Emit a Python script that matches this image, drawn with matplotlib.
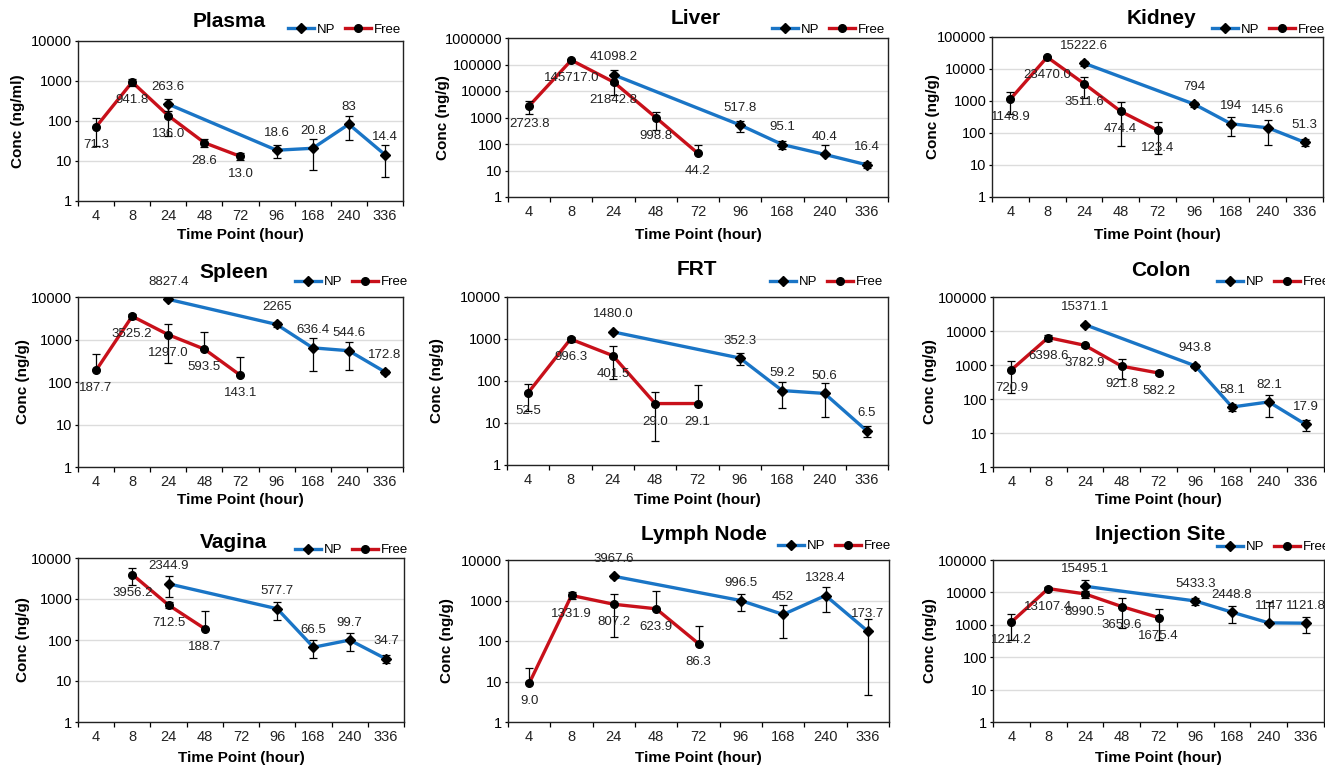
import matplotlib
matplotlib.use("Agg")
import matplotlib.pyplot as plt
from matplotlib.ticker import FixedLocator, FuncFormatter, NullLocator
from matplotlib.lines import Line2D
import numpy as np

plt.rcParams['font.family'] = ['Liberation Sans', 'DejaVu Sans']

# ---------------- data ----------------
time_points = ['4', '8', '24', '48', '72', '96', '168', '240', '336']
free_times = ['4', '8', '24', '48', '72']
np_times = ['24', '96', '168', '240', '336']
vagina_free_times = ['8', '24', '48']

plasma_free = [71.3, 941.8, 136.0, 28.6, 13.0]
plasma_free_sd = [48, 200, 95, 6, 2.5]
plasma_np = [263.6, 18.6, 20.8, 83, 14.4]
plasma_np_sd = [90, 6.7, 15, 50, 10.5]
plasma_np_lbl = ['263.6', '18.6', '20.8', '83', '14.4']

liver_free = [2723.8, 145717.0, 21842.8, 998.8, 44.2]
liver_free_sd = [1400, 15000, 15000, 650, 45]
liver_np = [41098.2, 517.8, 95.1, 40.4, 16.4]
liver_np_sd = [22000, 230, 31, 50, 4]
liver_np_lbl = ['41098.2', '517.8', '95.1', '40.4', '16.4']

kidney_free = [1148.9, 23470.0, 3511.6, 474.4, 123.4]
kidney_free_sd = [770, 2000, 2300, 435, 102]
kidney_np = [15222.6, 794, 194, 145.6, 51.3]
kidney_np_sd = [3000, 160, 112, 102, 12]
kidney_np_lbl = ['15222.6', '794', '194', '145.6', '51.3']

spleen_free = [187.7, 3525.2, 1297.0, 593.5, 143.1]
spleen_free_sd = [270, 500, 1010, 920, 254]
spleen_np = [8827.4, 2265, 636.4, 544.6, 172.8]
spleen_np_sd = [500, 300, 450, 350, 20]
spleen_np_lbl = ['8827.4', '2265', '636.4', '544.6', '172.8']

frt_free = [52.5, 996.3, 401.5, 29.0, 29.1]
frt_free_sd = [33, 150, 290, 25.3, 50]
frt_np = [1480.0, 352.3, 59.2, 50.6, 6.5]
frt_np_sd = [100, 110, 37, 37, 1.8]
frt_np_lbl = ['1480.0', '352.3', '59.2', '50.6', '6.5']

colon_free = [720.9, 6398.6, 3782.9, 921.8, 582.2]
colon_free_sd = [570, 1250, 400, 540, 80]
colon_np = [15371.1, 943.8, 58.1, 82.1, 17.9]
colon_np_sd = [1000, 100, 14, 53, 6.5]
colon_np_lbl = ['15371.1', '943.8', '58.1', '82.1', '17.9']

vagina_free = [3956.2, 712.5, 188.7]
vagina_free_sd = [1750, 115, 315]
vagina_np = [2344.9, 577.7, 66.5, 99.7, 34.7]
vagina_np_sd = [1230, 268, 31, 46, 7.5]
vagina_np_lbl = ['2344.9', '577.7', '66.5', '99.7', '34.7']

lymph_free = [9.0, 1331.9, 807.2, 623.9, 86.3]
lymph_free_sd = [12.7, 250, 680, 1076, 148]
lymph_np = [3967.6, 996.5, 452, 1328.4, 173.7]
lymph_np_sd = [300, 460, 335, 795, 169]
lymph_np_lbl = ['3967.6', '996.5', '452', '1328.4', '173.7']

inj_free = [1214.2, 13107.4, 8990.5, 3659.6, 1675.4]
inj_free_sd = [880, 1500, 2300, 2880, 1330]
inj_np = [15495.1, 5433.3, 2448.8, 1147, 1121.8]
inj_np_sd = [8000, 1430, 1300, 4000, 570]
inj_np_lbl = ['15495.1', '5433.3', '2448.8', '1147', '1121.8']

titles = ['Plasma', 'Liver', 'Kidney', 'Spleen', 'FRT', 'Colon', 'Vagina', 'Lymph Node', 'Injection Site']
ylabels = ['Conc (ng/ml)'] + ['Conc (ng/g)'] * 8
ymax = [1e4, 1e6, 1e5, 1e4, 1e4, 1e5, 1e4, 1e4, 1e5]

panels_data = [
    (free_times, plasma_free, plasma_free_sd, plasma_np, plasma_np_sd, plasma_np_lbl),
    (free_times, liver_free, liver_free_sd, liver_np, liver_np_sd, liver_np_lbl),
    (free_times, kidney_free, kidney_free_sd, kidney_np, kidney_np_sd, kidney_np_lbl),
    (free_times, spleen_free, spleen_free_sd, spleen_np, spleen_np_sd, spleen_np_lbl),
    (free_times, frt_free, frt_free_sd, frt_np, frt_np_sd, frt_np_lbl),
    (free_times, colon_free, colon_free_sd, colon_np, colon_np_sd, colon_np_lbl),
    (vagina_free_times, vagina_free, vagina_free_sd, vagina_np, vagina_np_sd, vagina_np_lbl),
    (free_times, lymph_free, lymph_free_sd, lymph_np, lymph_np_sd, lymph_np_lbl),
    (free_times, inj_free, inj_free_sd, inj_np, inj_np_sd, inj_np_lbl),
]

# ---------------- layout (pixels) ----------------
W, H = 1325, 765
# axes rect (left, top, right, bottom), title center, legend (left x, center y), ylabel x, xlabel y
layout = [
    ((78, 41, 403, 201), (229, 22), (288, 30), 18, 235),
    ((508, 38, 888, 197), (696, 18), (772, 30), 443, 235),
    ((992, 37, 1323, 197), (1161, 18), (1212, 30), 933, 235),
    ((78, 297, 403, 467), (234, 272), (295, 282), 23, 500),
    ((507, 297, 888, 465), (697, 270), (770, 282), 437, 500),
    ((993, 297, 1324, 467), (1161, 270), (1217, 282), 930, 500),
    ((78, 558, 404, 722), (233, 542), (295, 550), 23, 758),
    ((508, 560, 889, 722), (704, 535), (778, 546), 447, 758),
    ((993, 560, 1324, 722), (1160, 535), (1217, 547), 930, 758),
]

NP_COLOR = '#1A75C6'
FREE_COLOR = '#C8101A'

fig = plt.figure(figsize=(W / 100, H / 100), dpi=100)

for i in range(9):
    (l, t, r, b), (tx, ty), (lx, ly), ylx, xly = layout[i]
    ftimes, fvals, fsd, nvals, nsd, nlbl = panels_data[i]
    ax = fig.add_axes([l / W, 1 - b / H, (r - l) / W, (b - t) / H])
    ax.set_yscale('log')
    ax.set_xlim(-0.5, len(time_points) - 0.5)
    ax.set_ylim(1, ymax[i])

    fx = [time_points.index(tp) for tp in ftimes]
    nx = [time_points.index(tp) for tp in np_times]

    # lines
    ax.plot(nx, nvals, color=NP_COLOR, lw=2.4, zorder=3)
    ax.plot(fx, fvals, color=FREE_COLOR, lw=2.4, zorder=3)
    # error bars (lower bar omitted when it would go below zero)
    for xs, vals, sds in ((nx, nvals, nsd), (fx, fvals, fsd)):
        lower = [sd if v - sd > 0 else 0 for v, sd in zip(vals, sds)]
        ax.errorbar(xs, vals, yerr=[lower, sds], fmt='none', ecolor='black',
                    elinewidth=0.9, capsize=3, capthick=0.9, zorder=4)
    # markers
    ax.plot(nx, nvals, linestyle='none', marker='D', ms=5, mfc='black', mec='black', zorder=5)
    ax.plot(fx, fvals, linestyle='none', marker='o', ms=5.5, mfc='black', mec='black', zorder=5)

    # data labels
    for x, v, s in zip(nx, nvals, nlbl):
        ax.annotate(s, (x, v), xytext=(0, 12.5), textcoords='offset points',
                    ha='center', va='center', fontsize=9.5, color='#222222', zorder=6)
    for x, v in zip(fx, fvals):
        ax.annotate(f'{v:.1f}', (x, v), xytext=(0, -13), textcoords='offset points',
                    ha='center', va='center', fontsize=9.5, color='#222222', zorder=6)

    # axes styling
    decades = [10 ** k for k in range(int(round(np.log10(ymax[i]))) + 1)]
    ax.yaxis.set_major_locator(FixedLocator(decades))
    ax.yaxis.set_minor_locator(NullLocator())
    ax.yaxis.set_major_formatter(FuncFormatter(lambda v, p: f'{int(round(v))}'))
    ax.grid(axis='y', color='#dcdcdc', lw=1, zorder=0)
    ax.set_axisbelow(True)
    ax.set_xticks(range(len(time_points)))
    ax.set_xticklabels(time_points)
    ax.set_xticks(np.arange(-0.5, len(time_points), 1), minor=True)
    ax.tick_params(axis='x', which='major', length=0, pad=6, labelsize=10.5, colors='#222222')
    ax.tick_params(axis='x', which='minor', length=3.5, width=0.9, direction='out')
    ax.tick_params(axis='y', which='major', length=2.5, width=0.9, pad=1.5, labelsize=10.5)
    for sp in ax.spines.values():
        sp.set_color('#222222')
        sp.set_linewidth(1.0)

    # labels
    ax.set_xlabel('Time Point (hour)', fontsize=11, fontweight='bold')
    ax.xaxis.set_label_coords(0.5, (b - xly) / (b - t))
    ax.xaxis.label.set_verticalalignment('center')
    ax.set_ylabel(ylabels[i], fontsize=11, fontweight='bold')
    ax.yaxis.set_label_coords((ylx - l) / (r - l), 0.5)
    ax.yaxis.label.set_verticalalignment('center')
    ax.set_title(titles[i], fontsize=15, fontweight='bold', pad=0,
                 x=(tx - l) / (r - l), y=(b - ty) / (b - t), va='center')

    # legend
    handles = [
        Line2D([], [], color=NP_COLOR, lw=2.4, marker='D', ms=5, mfc='black', mec='black'),
        Line2D([], [], color=FREE_COLOR, lw=2.4, marker='o', ms=5.5, mfc='black', mec='black'),
    ]
    ax.legend(handles, ['NP', 'Free'], ncol=2, loc='center left',
              bbox_to_anchor=(lx / W, 1 - ly / H), bbox_transform=fig.transFigure,
              frameon=False, fontsize=9.5, handlelength=2.0, handletextpad=0.2,
              columnspacing=0.7, borderpad=0, borderaxespad=0)

fig.savefig('out.png', dpi=100)
